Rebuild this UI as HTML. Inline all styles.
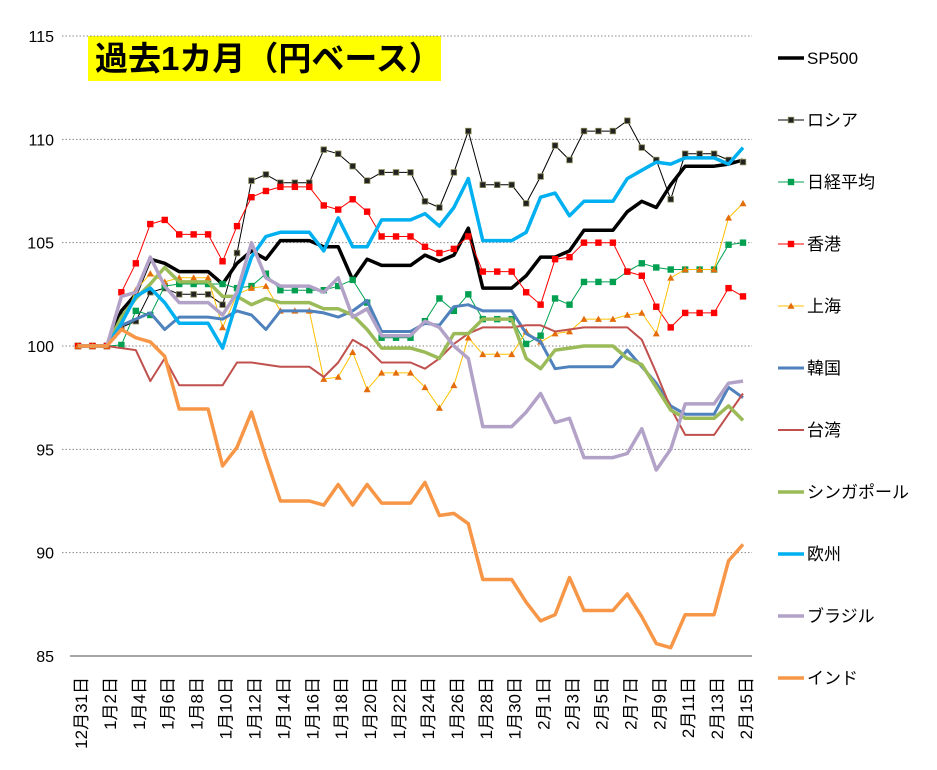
<!DOCTYPE html>
<html><head><meta charset="utf-8"><style>
body{margin:0;background:#fff;}
svg{display:block;font-family:"Liberation Sans","Noto Sans CJK JP",sans-serif;}
</style></head><body>
<svg id="chart" width="937" height="770" viewBox="0 0 937 770" xmlns="http://www.w3.org/2000/svg">
<rect x="88" y="36" width="353" height="45" fill="#ffff00"/>
<text x="95" y="70" font-size="33" font-weight="bold" fill="#000">過去1カ月（円ベース）</text>
<g id="grid"></g><g id="axes"></g><g id="series"></g><g id="legend"></g>
</svg>
<script>
const categories = ["12月31日","1月1日","1月2日","1月3日","1月4日","1月5日","1月6日","1月7日","1月8日","1月9日","1月10日","1月11日","1月12日","1月13日","1月14日","1月15日","1月16日","1月17日","1月18日","1月19日","1月20日","1月21日","1月22日","1月23日","1月24日","1月25日","1月26日","1月27日","1月28日","1月29日","1月30日","1月31日","2月1日","2月2日","2月3日","2月4日","2月5日","2月6日","2月7日","2月8日","2月9日","2月10日","2月11日","2月12日","2月13日","2月14日","2月15日"];
const yTicks = [85,90,95,100,105,110,115];
const seriesNames = ["SP500","ロシア","日経平均","香港","上海","韓国","台湾","シンガポール","欧州","ブラジル","インド"];
const sp500 = [100,100,100,101.7,102.5,104.2,104.0,103.6,103.6,103.6,103.0,104.0,104.6,104.2,105.1,105.1,105.1,104.8,104.8,103.2,104.2,103.9,103.9,103.9,104.4,104.1,104.4,105.7,102.8,102.8,102.8,103.4,104.3,104.3,104.6,105.6,105.6,105.6,106.5,107.0,106.7,107.8,108.7,108.7,108.7,108.8,109.0];
const russia = [100,100,100,100.9,101.2,102.6,102.8,102.5,102.5,102.5,102.0,104.5,108.0,108.3,107.9,107.9,107.9,109.5,109.3,108.7,108.0,108.4,108.4,108.4,107.0,106.7,108.4,110.4,107.8,107.8,107.8,106.9,108.2,109.7,109.0,110.4,110.4,110.4,110.9,109.6,109.0,107.1,109.3,109.3,109.3,109.0,108.9];
const nikkei = [100,100,100,100.05,101.7,101.5,102.9,103.0,103.0,103.0,103.0,102.8,102.9,103.5,102.7,102.7,102.7,102.7,102.9,103.2,102.1,100.4,100.4,100.4,101.2,102.3,101.7,102.5,101.3,101.3,101.3,100.1,100.5,102.3,102.0,103.1,103.1,103.1,103.6,104.0,103.8,103.7,103.7,103.7,103.7,104.9,105.0];
const hongkong = [100,100,100,102.6,104.0,105.9,106.1,105.4,105.4,105.4,104.1,105.8,107.2,107.5,107.7,107.7,107.7,106.8,106.6,107.1,106.5,105.3,105.3,105.3,104.8,104.5,104.7,105.3,103.6,103.6,103.6,102.6,102.0,104.2,104.3,105.0,105.0,105.0,103.6,103.4,101.9,100.9,101.6,101.6,101.6,102.8,102.4];
const shanghai = [100,100,100,100.9,102.7,103.5,103.1,103.3,103.3,103.3,100.9,102.5,102.8,102.9,101.7,101.7,101.7,98.4,98.5,99.7,97.9,98.7,98.7,98.7,98.0,97.0,98.1,100.4,99.6,99.6,99.6,100.7,100.2,100.6,100.7,101.3,101.3,101.3,101.5,101.6,100.6,103.3,103.7,103.7,103.7,106.2,106.9];
const korea = [100,100,100,101.0,101.3,101.6,100.8,101.4,101.4,101.4,101.3,101.7,101.5,100.8,101.7,101.7,101.7,101.6,101.4,101.7,102.2,100.7,100.7,100.7,101.1,101.0,101.9,102.0,101.7,101.7,101.7,100.6,100.2,98.9,99.0,99.0,99.0,99.0,99.8,99.0,98.2,97.1,96.7,96.7,96.7,98.0,97.5];
const taiwan = [100,100,100,99.9,99.8,98.3,99.4,98.1,98.1,98.1,98.1,99.2,99.2,99.1,99.0,99.0,99.0,98.5,99.2,100.3,99.9,99.2,99.2,99.2,98.9,99.4,100.1,100.6,100.9,100.9,100.9,101.0,101.0,100.7,100.8,100.9,100.9,100.9,100.9,100.3,98.7,97.0,95.7,95.7,95.7,96.7,97.7];
const singapore = [100,100,100,101.4,102.3,103.0,103.8,103.1,103.1,103.1,102.4,102.4,102.0,102.3,102.1,102.1,102.1,101.8,101.8,101.5,100.8,99.9,99.9,99.9,99.7,99.4,100.6,100.6,101.3,101.3,101.3,99.4,98.9,99.8,99.9,100.0,100.0,100.0,99.4,99.1,98.0,96.9,96.5,96.5,96.5,97.1,96.4];
const europe = [100,100,100,101.1,102.4,102.8,102.1,101.1,101.1,101.1,99.9,102.2,104.3,105.3,105.5,105.5,105.5,104.6,106.2,104.8,104.8,106.1,106.1,106.1,106.4,105.8,106.7,108.1,105.1,105.1,105.1,105.5,107.2,107.4,106.3,107.0,107.0,107.0,108.1,108.5,108.9,108.8,109.1,109.1,109.1,108.8,109.6];
const brazil = [100,100,100,102.4,102.6,104.3,102.9,102.1,102.1,102.1,101.5,102.6,105.0,103.3,102.9,102.9,102.9,102.6,103.3,101.4,101.8,100.5,100.5,100.5,101.2,100.9,100.0,99.4,96.1,96.1,96.1,96.8,97.7,96.3,96.5,94.6,94.6,94.6,94.8,96.0,94.0,95.0,97.2,97.2,97.2,98.2,98.3];
const india = [100,100,100,100.8,100.4,100.2,99.5,96.95,96.95,96.95,94.2,95.1,96.8,94.6,92.5,92.5,92.5,92.3,93.3,92.3,93.3,92.4,92.4,92.4,93.4,91.8,91.9,91.4,88.7,88.7,88.7,87.6,86.7,87.0,88.8,87.2,87.2,87.2,88.0,86.9,85.6,85.4,87.0,87.0,87.0,89.6,90.4];

const NS="http://www.w3.org/2000/svg";
const X0=78, X1=743, YTOP=36, YBOT=656, VMIN=85, VMAX=115;
function xPos(i){return X0+(X1-X0)*i/(categories.length-1);}
function yPos(v){return YBOT-(v-VMIN)/(VMAX-VMIN)*(YBOT-YTOP);}
function mk(tag,attrs,parent){const e=document.createElementNS(NS,tag);for(const k in attrs)e.setAttribute(k,attrs[k]);parent.appendChild(e);return e;}
const grid=document.getElementById('grid'), axes=document.getElementById('axes'), sg=document.getElementById('series'), lg=document.getElementById('legend');

yTicks.forEach(t=>{
  const y=yPos(t);
  if(t!==VMIN){const l=mk('line',{x1:62,x2:752,y1:y,y2:y,stroke:'#888','stroke-width':1,'stroke-dasharray':'1.5,2'},grid);
  
  }
  const tx=mk('text',{x:54,y:y+6,'font-size':16,'text-anchor':'end',fill:'#000'},axes);
  tx.textContent=t;
  
  
});
const ax=mk('line',{x1:70,x2:752,y1:YBOT,y2:YBOT,stroke:'#888','stroke-width':1.5},axes);


categories.forEach((c,i)=>{
  if(i%2!==0)return;
  const x=xPos(i)+9, y=677;
  const t=mk('text',{x:x,y:y,'font-size':17,'text-anchor':'end',transform:`rotate(-90 ${x} ${y})`,fill:'#000'},axes);
  t.textContent=c;
  
  
});

const seriesData=[sp500,russia,nikkei,hongkong,shanghai,korea,taiwan,singapore,europe,brazil,india];
const styles=[
 {c:'#000000',w:3.5},{c:'#000000',w:1,m:'sq',mf:'#222',ms:'#8a8a5a'},{c:'#00A050',w:1,m:'sq',mf:'#00A050',ms:'#00A050'},
 {c:'#FF0000',w:1,m:'sq',mf:'#FF0000',ms:'#FF0000'},{c:'#FFC000',w:1,m:'tri',mf:'#E46C0A',ms:'#E46C0A'},
 {c:'#4F81BD',w:3},{c:'#C0504D',w:2},{c:'#9BBB59',w:3.5},{c:'#00B0F0',w:3.5},{c:'#B3A2C7',w:3.5},{c:'#F79646',w:3.5}];
function marker(type,x,y,s,parent){
  if(type==='sq') return mk('rect',{x:x-2.8,y:y-2.8,width:5.6,height:5.6,fill:s.mf,stroke:s.ms,'stroke-width':0.8},parent);
  return mk('polygon',{points:`${x},${y-3.5} ${x+3.5},${y+2.8} ${x-3.5},${y+2.8}`,fill:s.mf},parent);
}
seriesData.forEach((d,si)=>{
  const s=styles[si];
  const g=mk('g',{},sg);
  
  
  const pts=d.map((v,i)=>xPos(i).toFixed(1)+','+yPos(v).toFixed(1)).join(' ');
  const pl=mk('polyline',{points:pts,fill:'none',stroke:s.c,'stroke-width':s.w,'stroke-linejoin':'round'},g);
  
  
  if(s.m){d.forEach((v,i)=>{const m=marker(s.m,xPos(i),yPos(v),s,g);
    
    });}
  const ly=58+si*62;
  const le=mk('g',{},lg);
  
  
  mk('line',{x1:778,x2:804,y1:ly,y2:ly,stroke:s.c,'stroke-width':s.w},le);
  if(s.m)marker(s.m,791,ly,s,le);
  const t=mk('text',{x:807,y:ly+6,'font-size':17,fill:'#000'},le);
  t.textContent=seriesNames[si];
});
</script>
</body></html>
